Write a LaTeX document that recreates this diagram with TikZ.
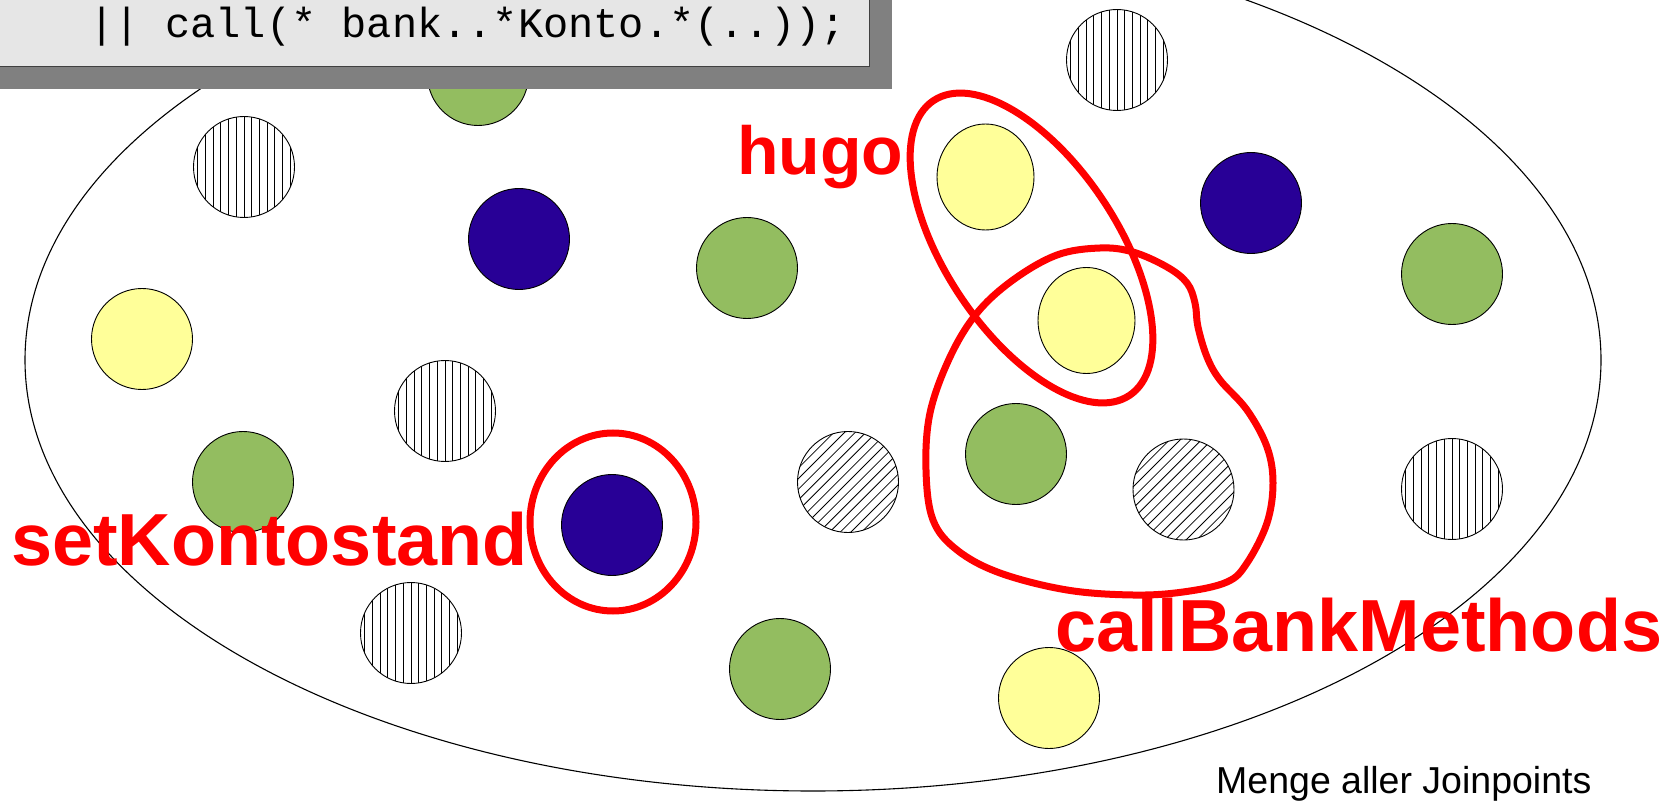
\documentclass[tikz,border=0pt]{standalone}
\usepackage{fontspec}
\setmainfont{Liberation Sans}
\newfontfamily\codefont{Liberation Mono}
\usetikzlibrary{shapes.geometric}
\definecolor{jpgreen}{HTML}{93BD60}
\definecolor{jpnavy}{HTML}{280096}
\definecolor{jpyellow}{HTML}{FFFF99}
\definecolor{boxlight}{HTML}{E6E6E6}
\definecolor{boxshadow}{HTML}{808080}
\definecolor{boxline}{HTML}{404040}
\begin{document}
\begin{tikzpicture}[x=1pt,y=-1pt,
  jp/.style={circle, draw=black, line width=0.9pt, minimum size=101pt, inner sep=0pt},
  jpoval/.style={ellipse, draw=black, line width=0.9pt, fill=jpyellow, minimum width=97pt, minimum height=106pt, inner sep=0pt},
  jpgreenc/.style={jp, fill=jpgreen},
  jpnavyc/.style={jp, fill=jpnavy},
  jpyellowc/.style={jp, fill=jpyellow},
  vhatch/.style={jp, fill=white, path picture={
      \foreach \i in {-46.2,-38.5,...,46.3}
        \draw[line width=0.9pt] ([xshift={\i*1pt}]path picture bounding box.north) -- ([xshift={\i*1pt}]path picture bounding box.south);}},
  dhatch/.style={jp, fill=white, path picture={
      \foreach \i in {-74.2,-63.6,...,74.3}
        \draw[line width=0.8pt] ([xshift={(\i-60)*1pt}, yshift=-60pt]path picture bounding box.center) -- ([xshift={(\i+60)*1pt}, yshift=60pt]path picture bounding box.center);}},
  redline/.style={draw=red, line width=7pt},
  redlabel/.style={text=red, font=\bfseries\fontsize{73.8}{80}\selectfont, inner sep=0pt, anchor=base west},
]
\useasboundingbox (0,0) rectangle (1674,802);
\fill[white] (0,0) rectangle (1674,802);

% set of all joinpoints
\draw[line width=1.1pt] (813,360) ellipse [x radius=788pt, y radius=431pt];

% joinpoints
\node[jpgreenc]  (c1)  at (478,75) {};
\node[vhatch]    (c2)  at (244,167) {};
\node[jpnavyc]   (c3)  at (519,239) {};
\node[jpgreenc]  (c4)  at (747,268) {};
\node[jpyellowc] (c5)  at (142,339) {};
\node[vhatch]    (c6)  at (445,411) {};
\node[jpgreenc]  (c7)  at (243,482) {};
\node[jpnavyc]   (c8)  at (612,525) {};
\node[dhatch]    (c9)  at (848,482) {};
\node[vhatch]    (c10) at (411,633) {};
\node[jpgreenc]  (c11) at (780,669) {};
\node[jpyellowc] (c12) at (1049,698) {};
\node[vhatch]    (c13) at (1117,60) {};
\node[jpoval]    (c14) at (985.5,177) {};
\node[jpnavyc]   (c15) at (1251,203) {};
\node[jpgreenc]  (c16) at (1452,274) {};
\node[jpoval]    (c17) at (1086.5,320.5) {};
\node[jpgreenc]  (c18) at (1016,454) {};
\node[dhatch]    (c19) at (1183.5,489.5) {};
\node[vhatch]    (c20) at (1452,489) {};

% pointcuts
\draw[redline] (613,522) ellipse [x radius=83pt, y radius=89pt];
\draw[redline, rotate around={-56.4:(1031.5,248)}] (1031.5,248) ellipse [x radius=177pt, y radius=86pt];
\draw[redline] plot[smooth cycle, tension=0.6] coordinates {
  (1100,248) (1133,252) (1167,267) (1187,283) (1195,303) (1198,327)
  (1207,357) (1220,380) (1247,410) (1267,447) (1273,483) (1267,523)
  (1247,563) (1227,582) (1183,592) (1133,595) (1067,590) (1000,573)
  (957,550) (933,520) (926,470) (930,413) (950,357) (977,313)
  (1013,280) (1057,255)};

% labels
\node[redlabel, font=\bfseries\fontsize{68}{76}\selectfont] (hugo) at (737,175) {hugo};
\node[redlabel] (setk) at (11,565) {setKontostand};
\node[redlabel] (callb) at (1055,651) {callBankMethods};
\node[anchor=base west, inner sep=0pt, font=\fontsize{37.5}{42}\selectfont] (menge) at (1216,793) {Menge aller Joinpoints};

% code box
\fill[boxshadow] (-5,-5) rectangle (892,89);
\filldraw[fill=boxlight, draw=boxline, line width=1pt] (-5,-5) rectangle (869,67);
\node[anchor=base west, inner sep=0pt, font=\codefont\fontsize{42}{50}\selectfont] (code) at (89.5,38) {|| call(* bank..*Konto.*(..));};
\end{tikzpicture}
\end{document}
